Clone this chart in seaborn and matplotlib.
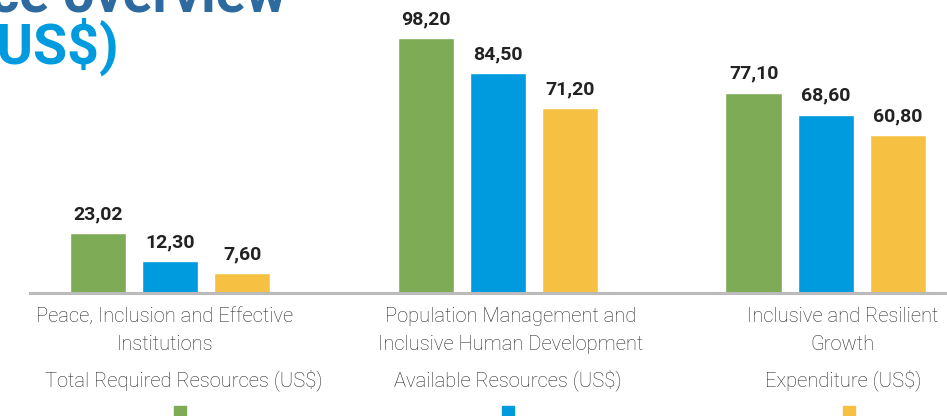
import pandas as pd
import seaborn as sns
import matplotlib.pyplot as plt
from matplotlib.patches import Rectangle
from matplotlib.transforms import ScaledTranslation


# chart values
categories = ['Peace, Inclusion and Effective\nInstitutions',
              'Population Management and\nInclusive Human Development',
              'Inclusive and Resilient\nGrowth']
series = ['Total Required Resources (US$)', 'Available Resources (US$)', 'Expenditure (US$)']
required = [23.02, 98.20, 77.10]
available = [12.30, 84.50, 68.60]
expenditure = [7.60, 71.20, 60.80]
colors = ['#7EAB55', '#009ADE', '#F6C143']

df = pd.DataFrame({
    'Category': categories * 3,
    'Series': [s for s in series for _ in categories],
    'Value': required + available + expenditure,
})

sns.set_style('white')
plt.rcParams['font.family'] = ['Roboto', 'DejaVu Sans']

fig = plt.figure(figsize=(9.47, 4.16), dpi=100)
ax = fig.add_axes([30 / 947, 1 - 293 / 416, 1 - 30 / 947, 293 / 416])

sns.barplot(data=df, x='Category', y='Value', hue='Series', hue_order=series,
            palette=colors, width=0.66, gap=0.22, saturation=1,
            legend=False, ax=ax)

for cont in ax.containers:
    labels = [f'{b.get_height():.2f}'.replace('.', ',') for b in cont]
    ax.bar_label(cont, labels=labels, padding=7, fontsize=14,
                 fontweight='bold', color='#222222')

ax.set_xlim(-0.427, 2.37)
ax.set_ylim(0, 112.7)
ax.set_xlabel('')
ax.set_ylabel('')
ax.set_yticks([])
for s in ['top', 'right', 'left']:
    ax.spines[s].set_visible(False)
ax.spines['bottom'].set_color('#BBBBBB')
ax.spines['bottom'].set_linewidth(2.2)
ax.tick_params(axis='x', length=0, pad=10)
# labels sit a little off the group centres in the original
shifts = [-5, 13, 17]
for lbl, dx in zip(ax.get_xticklabels(), shifts):
    lbl.set_fontsize(14.5)
    lbl.set_fontweight('light')
    lbl.set_color('#2A2A2A')
    lbl.set_linespacing(1.6)
    lbl.set_transform(lbl.get_transform() + ScaledTranslation(dx / 100, 0, fig.dpi_scale_trans))

# legend: labels with squares underneath
legend_x = [184, 508, 843]
square_x = [180, 508, 849]
for name, col, tx, sx in zip(series, colors, legend_x, square_x):
    fig.text(tx / 947, 1 - 380 / 416, name, ha='center', va='center',
             fontsize=14.5, fontweight='light', color='#2A2A2A')
    fig.patches.append(Rectangle(((sx - 6) / 947, 1 - 418 / 416), 12 / 947, 12 / 416,
                                 transform=fig.transFigure, color=col, figure=fig))

# title, cut off by the frame
fig.text(286 / 947, 1 - 12 / 416, 'Performance overview', ha='right', va='baseline',
         fontsize=40, fontweight='bold', color='#2D6A9F')
fig.text(119 / 947, 1 - 64 / 416, '(US$)', ha='right', va='baseline',
         fontsize=40, fontweight='bold', color='#009ADE')

fig.savefig('out.png', dpi=100)
